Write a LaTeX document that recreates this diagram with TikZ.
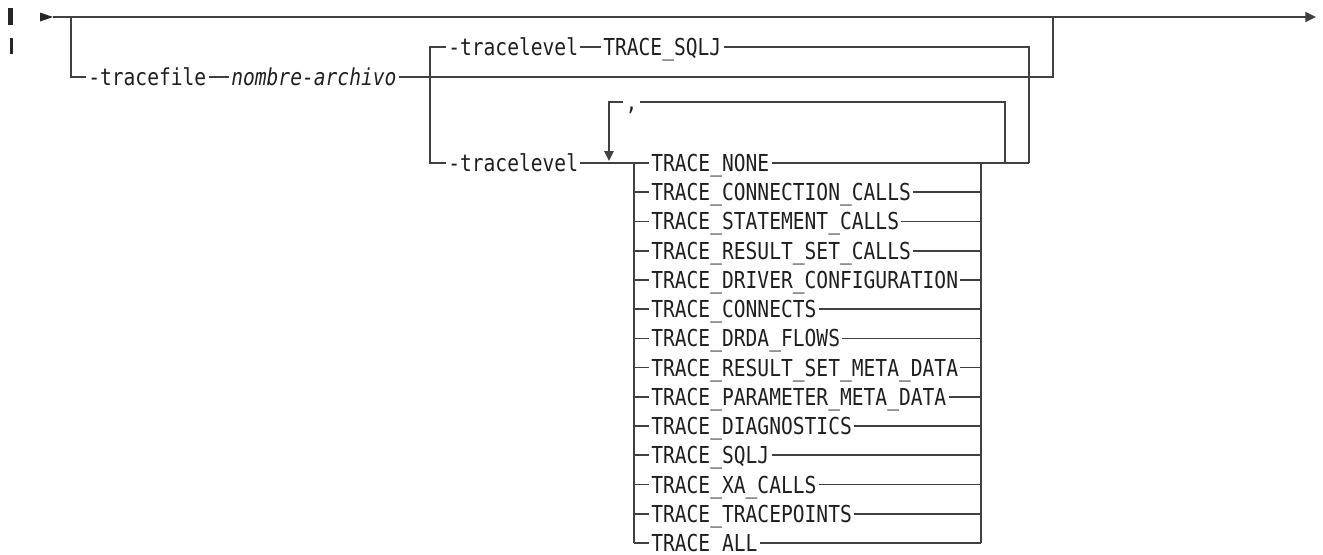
\documentclass[tikz,border=0pt]{standalone}
\usepackage{fontspec}
\newfontfamily\dmono[FakeStretch=0.84]{DejaVu Sans Mono}
\usetikzlibrary{arrows.meta}
\begin{document}
\begin{tikzpicture}[x=0.75pt,y=-0.75pt,
  ln/.style={line width=1.25pt, draw=black!75},
  rr/.style={inner xsep=1.5pt, inner ysep=0pt, text height=12.76pt, text depth=0pt,
    anchor=west, text=black!88, font=\dmono\fontsize{17.5pt}{19pt}\selectfont},
  tip/.style={-{Triangle[length=8pt,width=7.5pt]}}]
\useasboundingbox (0,0) rectangle (1323,554);
% margin change bars
\fill[black!85] (8,8) rectangle (13,25);
\fill[black!85] (10,38) rectangle (12.5,54);
% start marker and main line
\fill[black!85] (40,12.5) -- (53,17) -- (40,21.5) -- cycle;
\coordinate (s) at (53,17);
\coordinate (e) at (1316,17);
\draw[ln,tip] (s) -- (e);
% -tracefile row
\coordinate (b1) at (71,17);
\coordinate (b1r) at (1053,17);
\node[rr] (tf) at (86,77) {-tracefile};
\node[rr] (na) at (229,77) {\itshape nombre-archivo};
\draw[ln] (b1) |- (tf.west);
\draw[ln] (tf.east) -- (na.west);
\draw[ln] (na.east) -| (b1r);
% -tracelevel alternatives
\node[rr] (tl1) at (446,47) {-tracelevel};
\node[rr] (sq) at (601,47) {TRACE\_SQLJ};
\node[rr] (tl2) at (446,163) {-tracelevel};
\coordinate (j3) at (1029,163);
\draw[ln] (tl1.west) -| (430,163) -- (tl2.west);
\draw[ln] (tl1.east) -- (sq.west);
\draw[ln] (sq.east) -| (j3);
% choice list
\coordinate (cl) at (634,163);
\coordinate (cr) at (981,163);
\coordinate (lpr) at (1005,163);
\draw[ln] (tl2.east) -- (cl);
\draw[ln] (cr) -- (j3);
\foreach \t [count=\i from 0] in {TRACE\_NONE,TRACE\_CONNECTION\_CALLS,TRACE\_STATEMENT\_CALLS,TRACE\_RESULT\_SET\_CALLS,TRACE\_DRIVER\_CONFIGURATION,TRACE\_CONNECTS,TRACE\_DRDA\_FLOWS,TRACE\_RESULT\_SET\_META\_DATA,TRACE\_PARAMETER\_META\_DATA,TRACE\_DIAGNOSTICS,TRACE\_SQLJ,TRACE\_XA\_CALLS,TRACE\_TRACEPOINTS,TRACE\_ALL}{
  \pgfmathsetmacro\yy{163+29.23*\i}
  \node[rr] (c\i) at (649,\yy) {\t};
  \coordinate (cl\i) at (634,\yy);
  \coordinate (cr\i) at (981,\yy);
  \draw[ln] (cl\i) -- (c\i.west);
  \draw[ln] (c\i.east) -- (cr\i);
}
\draw[ln] (cl0) -- (cl13);
\draw[ln] (cr0) -- (cr13);
% repeat loop with separator
\node[rr, anchor=center] (cm) at (631.5,102) {,};
\draw[ln] (lpr) |- (cm.east);
\coordinate (lpt) at (609,161);
\draw[ln,-{Triangle[length=7.5pt,width=7pt]}] (cm.west) -| (lpt);
\end{tikzpicture}
\end{document}
